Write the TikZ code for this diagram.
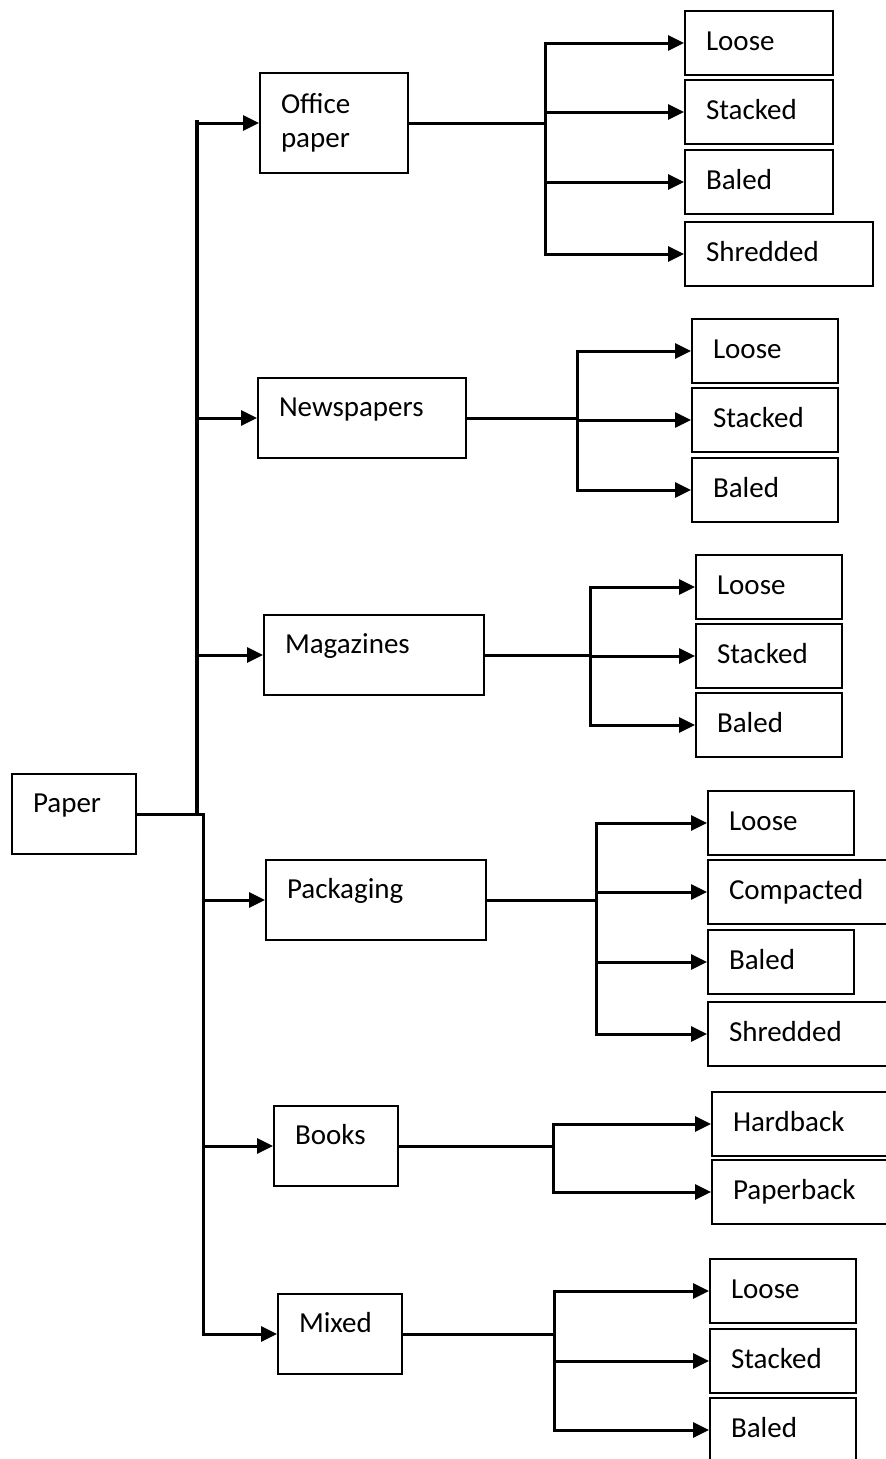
\documentclass[tikz,border=0pt]{standalone}
\usepackage{fontspec}
\setmainfont{Carlito}
\usepackage{tikz}
\usetikzlibrary{arrows.meta,positioning,calc}

\tikzset{
  cat/.style={draw,line width=2pt,anchor=north west,inner xsep=21pt,inner ysep=0pt,
    align=left,text height=38pt,text depth=42pt,text width=#1},
  leaf/.style={cat=#1,text height=39pt,text depth=25pt},
  link/.style={line width=3pt,line cap=rect},
  feed/.style={link,-{Triangle[length=16pt,width=15pt]}}
}

\begin{document}
\begin{tikzpicture}[x=1pt,y=-1pt,font=\fontsize{29}{34}\selectfont]
  \useasboundingbox (0,0) rectangle (886,1459);
  % first level
  \node[cat=82pt] (paper) at (11,773) {Paper};
  \node[cat=106pt,text height=40pt,text depth=60pt] (office) at (259,72) {Office\\paper};
  \node[cat=166pt] (news) at (257,377) {Newspapers};
  \node[cat=178pt] (mag) at (263,614) {Magazines};
  \node[cat=178pt] (pack) at (265,859) {Packaging};
  \node[cat=82pt] (books) at (273,1105) {Books};
  \node[cat=82pt] (mixed) at (277,1293) {Mixed};
  % second level
  \node[leaf=106pt] (o1) at (684,10) {Loose};
  \node[leaf=106pt] (o2) at (684,79) {Stacked};
  \node[leaf=106pt] (o3) at (684,149) {Baled};
  \node[leaf=146pt] (o4) at (684,221) {Shredded};
  \node[leaf=104pt] (n1) at (691,318) {Loose};
  \node[leaf=104pt] (n2) at (691,387) {Stacked};
  \node[leaf=104pt] (n3) at (691,457) {Baled};
  \node[leaf=104pt] (m1) at (695,554) {Loose};
  \node[leaf=104pt] (m2) at (695,623) {Stacked};
  \node[leaf=104pt] (m3) at (695,692) {Baled};
  \node[leaf=104pt] (p1) at (707,790) {Loose};
  \node[leaf=143pt] (p2) at (707,859) {Compacted};
  \node[leaf=104pt] (p3) at (707,929) {Baled};
  \node[leaf=143pt] (p4) at (707,1001) {Shredded};
  \node[leaf=140pt] (b1) at (711,1091) {Hardback};
  \node[leaf=140pt] (b2) at (711,1159) {Paperback};
  \node[leaf=104pt] (x1) at (709,1258) {Loose};
  \node[leaf=104pt] (x2) at (709,1328) {Stacked};
  \node[leaf=104pt] (x3) at (709,1397) {Baled};
  % main trunk
  \coordinate (top) at (197,122);
  \coordinate (j) at (paper.east -| top);
  \coordinate (low) at (203,1333);
  \draw[link] (paper.east) -- (j);
  \draw[link,line width=4pt] (top) -- (j);
  \draw[link] (j) -- ++(6,0) -- (low);
  \draw[feed] (j |- office.west) -- (office.west);
  \draw[feed] (j |- news.west) -- (news.west);
  \draw[feed] (j |- mag.west) -- (mag.west);
  \draw[feed] (low |- pack.west) -- (pack.west);
  \draw[feed] (low |- books.west) -- (books.west);
  \draw[feed] (low |- mixed.west) -- (mixed.west);
  % branches
  \coordinate (ob) at (545,0);
  \coordinate (nb) at (577,0);
  \coordinate (mb) at (590,0);
  \coordinate (pb) at (596,0);
  \coordinate (bb) at (553,0);
  \coordinate (xb) at (554,0);
  \draw[link] (office.east) -- (ob |- office.east);
  \draw[link] (ob |- o1.west) -- (ob |- o4.west);
  \foreach \n in {o1,o2,o3,o4} \draw[feed] (ob |- \n.west) -- (\n.west);
  \draw[link] (news.east) -- (nb |- news.east);
  \draw[link] (nb |- n1.west) -- (nb |- n3.west);
  \foreach \n in {n1,n2,n3} \draw[feed] (nb |- \n.west) -- (\n.west);
  \draw[link] (mag.east) -- (mb |- mag.east);
  \draw[link] (mb |- m1.west) -- (mb |- m3.west);
  \foreach \n in {m1,m2,m3} \draw[feed] (mb |- \n.west) -- (\n.west);
  \draw[link] (pack.east) -- (pb |- pack.east);
  \draw[link] (pb |- p1.west) -- (pb |- p4.west);
  \foreach \n in {p1,p2,p3,p4} \draw[feed] (pb |- \n.west) -- (\n.west);
  \draw[link] (books.east) -- (bb |- books.east);
  \draw[link] (bb |- b1.west) -- (bb |- b2.west);
  \foreach \n in {b1,b2} \draw[feed] (bb |- \n.west) -- (\n.west);
  \draw[link] (mixed.east) -- (xb |- mixed.east);
  \draw[link] (xb |- x1.west) -- (xb |- x3.west);
  \foreach \n in {x1,x2,x3} \draw[feed] (xb |- \n.west) -- (\n.west);
\end{tikzpicture}
\end{document}
